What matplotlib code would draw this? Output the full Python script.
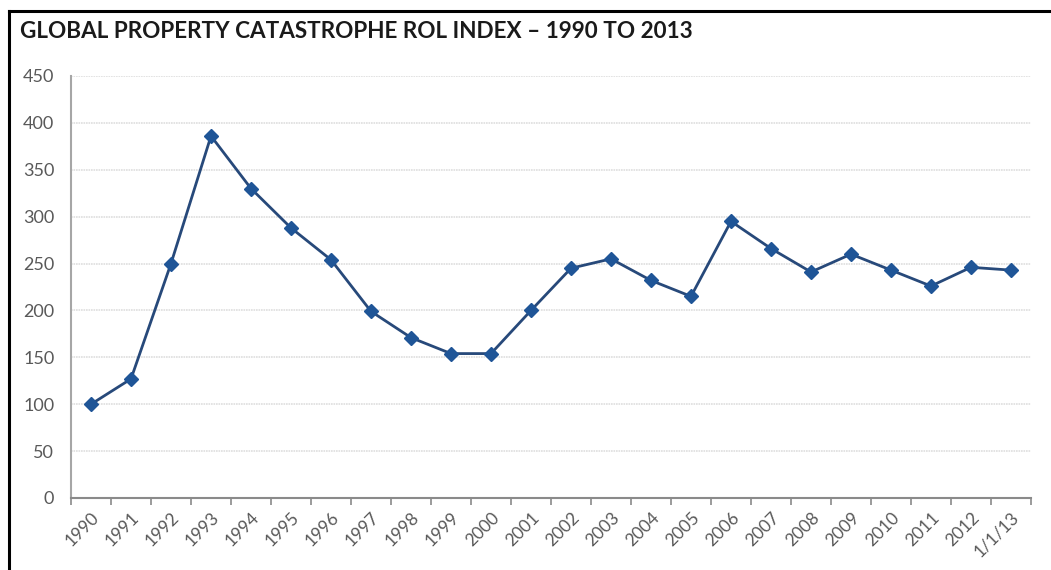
import matplotlib
matplotlib.use("Agg")
import matplotlib.pyplot as plt
from matplotlib.lines import Line2D
import numpy as np

# Global property catastrophe rate-on-line index
labels = ["1990", "1991", "1992", "1993", "1994", "1995", "1996", "1997",
          "1998", "1999", "2000", "2001", "2002", "2003", "2004", "2005",
          "2006", "2007", "2008", "2009", "2010", "2011", "2012", "1/1/13"]
rol_index = [100, 127, 250, 386, 330, 288, 254, 199,
             171, 154, 154, 200, 245, 255, 232, 215,
             295, 266, 241, 260, 243, 226, 246, 243]
y_ticks = [0, 50, 100, 150, 200, 250, 300, 350, 400, 450]

plt.rcParams["font.family"] = ["Lato", "DejaVu Sans"]

W, H = 1051, 570
fig = plt.figure(figsize=(W / 100, H / 100), dpi=100)
fig.patch.set_facecolor("white")

ax = fig.add_axes([71 / W, (H - 498) / H, 960 / W, 422 / H])
x = np.arange(len(labels))

ax.plot(x, rol_index, color="#27497a", lw=2.0, zorder=3,
        marker="D", markersize=7.5, markerfacecolor="#1f5597",
        markeredgecolor="#1f5597")

ax.set_xlim(-0.5, len(labels) - 0.5)
ax.set_ylim(0, 450)
ax.set_yticks(y_ticks)
ax.set_yticklabels([str(v) for v in y_ticks], fontsize=13, color="#595959")
ax.tick_params(axis="y", length=0, pad=12)

ax.set_xticks(x)
ax.set_xticklabels(labels, rotation=45, ha="right", rotation_mode="anchor",
                   fontsize=12.5, color="#595959")
ax.tick_params(axis="x", which="major", length=0, pad=8)
ax.set_xticks(np.arange(-0.5, len(labels)), minor=True)
ax.tick_params(axis="x", which="minor", length=5, width=1.2, color="#8a8a8a",
               direction="out")

ax.grid(axis="y", color="#dedede", lw=1.2, ls=(0, (1, 0.5)))
ax.set_axisbelow(True)
for side in ("top", "right"):
    ax.spines[side].set_visible(False)
ax.spines["left"].set_color("#a6a6a6")
ax.spines["left"].set_linewidth(1.5)
ax.spines["bottom"].set_color("#8a8a8a")
ax.spines["bottom"].set_linewidth(1.5)

fig.text(20 / W, 1 - 31 / H, "GLOBAL PROPERTY CATASTROPHE ROL INDEX \u2013 1990 TO 2013",
         fontsize=16.2, fontweight="bold", color="#1a1a1a", va="center", ha="left")

# frame lines along the top and left edges
fig.add_artist(Line2D([9 / W, 1.0], [1 - 11 / H, 1 - 11 / H], color="black",
                      lw=2.2, transform=fig.transFigure))
fig.add_artist(Line2D([9 / W, 9 / W], [0, 1 - 11 / H], color="black",
                      lw=2.2, transform=fig.transFigure))

fig.savefig("out.png", dpi=100, facecolor="white")
